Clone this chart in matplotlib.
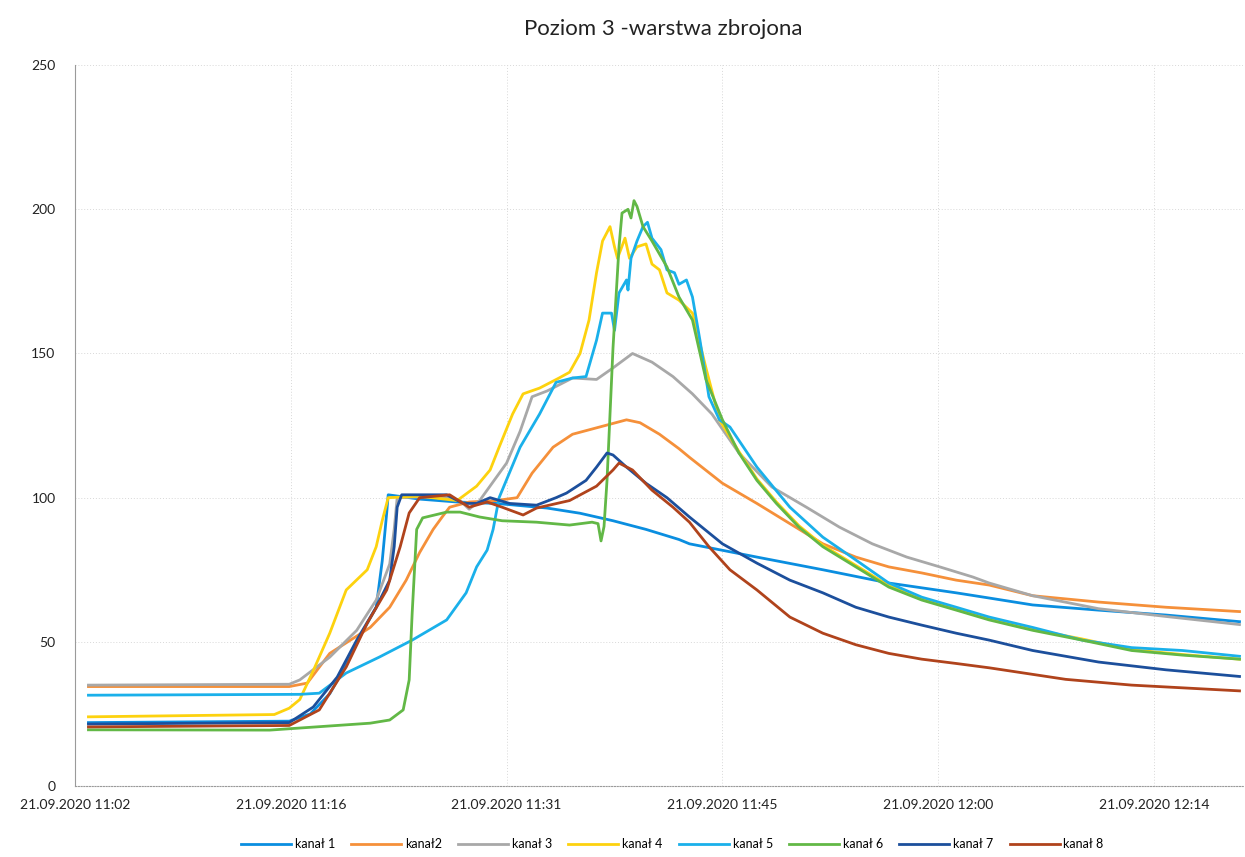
import matplotlib
matplotlib.use("Agg")
import matplotlib.pyplot as plt

# czas w minutach od 21.09.2020 11:02, temperatury
t1 = [0.9, 14.3, 15.7, 17.0, 18.3, 19.0, 20.1, 20.5, 20.8, 20.9, 23.0, 25.5, 28.1, 29.2, 31.5,
      33.7, 35.9, 38.1, 40.3, 41.0, 45.5, 49.9, 54.3, 58.8, 61.0, 63.9, 68.3, 72.8, 77.7]
k1 = [22, 22.5, 25, 32, 44, 51.7, 62, 78, 94.7, 101, 99.5, 98.5, 98, 97.5, 96.4,
      94.6, 92, 89, 85.5, 84, 79.4, 75, 70.4, 67, 65.2, 62.8, 61, 59.3, 57]

t2 = [0.9, 14.3, 15.5, 17.0, 19.7, 21.0, 22.1, 23.0, 23.9, 24.5, 25.0, 26.3, 28.1, 29.5, 30.5,
      31.9, 33.2, 35.0, 36.8, 37.7, 39.0, 40.3, 41.0, 43.2, 45.5, 47.7, 49.9, 52.1, 54.3, 56.5,
      58.8, 61.0, 63.9, 68.3, 72.8, 77.7]
k2 = [34.5, 34.5, 35.7, 46, 55, 62, 71.4, 81, 89, 93.3, 96.7, 98.5, 99, 100, 108.5,
      117.5, 122, 124.5, 127, 126, 122, 117, 114, 105, 98, 91, 84, 79.4, 76, 73.9,
      71.4, 69.7, 66, 63.8, 62, 60.5]

t3 = [0.9, 14.3, 15.0, 17.0, 18.8, 20.1, 21.0, 21.3, 21.5, 24.3, 25.7, 26.3, 27.0, 28.8, 29.7,
      30.5, 31.5, 33.2, 34.8, 35.9, 37.2, 38.5, 39.9, 41.2, 42.5, 44.3, 46.5, 48.8, 51.0, 53.2,
      55.5, 57.7, 59.9, 61.0, 63.9, 68.3, 72.8, 77.7]
k3 = [35, 35.3, 36.8, 44.7, 54, 64.5, 77, 89, 100, 100.5, 99, 96, 99, 112, 123,
      135, 137, 141.5, 141, 145, 150, 147, 142, 136, 129, 115.5, 103.7, 96.7, 89.8, 84,
      79.4, 76, 72.5, 70.4, 66, 61.5, 58.8, 56]

t4 = [0.9, 13.3, 14.3, 15.0, 15.9, 17.0, 18.1, 19.5, 20.1, 20.5, 20.9, 23.0, 25.5, 26.8, 27.7,
      28.3, 29.2, 29.9, 31.0, 32.3, 33.0, 33.7, 34.3, 34.8, 35.2, 35.7, 36.0, 36.2, 36.7, 37.0,
      37.5, 38.1, 38.5, 39.0, 39.5, 40.3, 41.2, 42.1, 43.0, 44.3, 45.5, 46.8, 48.3, 49.9, 52.1,
      54.3, 56.5, 58.8, 61.0, 63.9, 67.2, 70.5, 73.9, 77.7]
k4 = [24, 24.8, 27, 30, 40, 53, 68, 75, 83, 92, 100, 100.5, 99, 104, 109.6,
      117.5, 129, 136, 138, 141.5, 143.5, 150, 161.6, 178, 189, 194, 187, 183, 190, 183,
      187, 188, 181, 179, 171, 168.5, 164, 145, 127, 116, 106.5, 98.5, 90.3, 83.5, 76.5,
      69.5, 65, 61.4, 58, 54.3, 51, 47.3, 45.6, 44]

t5 = [0.9, 15.0, 16.3, 18.1, 20.3, 22.5, 24.8, 26.1, 26.8, 27.5, 27.9, 28.3, 29.7, 31.0, 32.1,
      33.2, 34.1, 34.8, 35.2, 35.8, 36.0, 36.3, 36.8, 36.9, 37.1, 37.5, 37.9, 38.2, 38.5, 39.1,
      39.5, 40.0, 40.3, 40.8, 41.2, 41.7, 42.3, 43.0, 43.7, 45.5, 47.7, 49.9, 52.1, 54.3, 56.5,
      58.8, 61.0, 63.9, 67.2, 70.5, 73.9, 77.7]
k5 = [31.5, 31.8, 32.2, 39.2, 44.7, 50.6, 57.6, 67, 76, 81.8, 89, 100, 117.5, 129, 140,
      141.5, 142, 154.6, 164, 164, 158, 171, 175.5, 172, 183, 189, 194, 195.5, 190, 186,
      179, 178, 174, 175.5, 169.6, 154.6, 135, 127, 124.5, 110.6, 96.7, 86.3, 78.4, 70.4, 65.5,
      62, 58.6, 55, 50.6, 48, 47, 45]

t6 = [0.9, 13.0, 19.7, 21.0, 21.9, 22.3, 22.5, 22.8, 23.2, 24.8, 25.7, 27.0, 28.5, 30.8, 33.0,
      34.5, 34.9, 35.1, 35.3, 35.5, 35.9, 36.3, 36.5, 36.9, 37.1, 37.3, 37.5, 37.9, 38.5, 39.5,
      40.3, 41.2, 42.1, 43.2, 44.3, 45.5, 46.8, 48.3, 49.9, 52.1, 54.3, 56.5, 58.8, 61.0, 63.9,
      67.2, 70.5, 73.9, 77.7]
k6 = [19.5, 19.4, 21.8, 22.9, 26.4, 36.8, 60, 89, 93, 95, 95, 93.3, 92, 91.5, 90.5,
      91.5, 91, 85, 90, 106, 152, 187, 198.7, 200, 197, 203, 201, 194, 189, 180,
      169.6, 161.6, 141, 127, 115.5, 106, 98, 89.8, 83, 76, 69, 64.5, 61, 57.6, 54,
      50.6, 47, 45.4, 44]

t7 = [0.9, 14.3, 15.9, 17.5, 18.8, 20.1, 21.0, 21.3, 21.5, 21.8, 24.8, 25.9, 26.8, 27.7, 29.0,
      30.8, 32.1, 32.8, 34.1, 34.8, 35.5, 35.9, 36.8, 38.1, 39.5, 41.0, 43.2, 45.5, 47.7, 49.9,
      52.1, 54.3, 56.5, 58.8, 61.0, 63.9, 68.3, 72.8, 77.7]
k7 = [21.5, 22, 27.4, 37.8, 50.6, 62, 71.4, 83, 96.7, 101, 101, 98, 98, 100, 98,
      97.4, 100, 101.6, 106, 110.6, 115.5, 114.8, 110.6, 105, 100, 93.3, 84, 77.3, 71.4, 67,
      62, 58.6, 55.8, 53, 50.6, 47, 43, 40.3, 38]

t8 = [0.9, 14.3, 16.3, 18.1, 19.5, 20.8, 21.7, 22.3, 23.0, 25.0, 26.3, 27.5, 28.5, 29.9, 30.8,
      33.0, 34.8, 35.9, 36.3, 37.2, 38.5, 39.9, 41.0, 42.3, 43.7, 45.5, 47.7, 49.9, 52.1, 54.3,
      56.5, 58.8, 61.0, 66.1, 70.5, 77.7]
k8 = [20.5, 21, 26.4, 41.3, 56.5, 68, 83, 94.7, 100, 101, 96.7, 98.5, 96.7, 94, 96.4,
      99, 104, 109.6, 112, 109.6, 102.6, 96.7, 91.5, 83, 75, 68, 58.6, 53, 49, 46,
      44, 42.5, 41, 37, 35, 33]

labels = ["kanał 1", "kanał2", "kanał 3", "kanał 4", "kanał 5", "kanał 6", "kanał 7", "kanał 8"]
colors = ["#0a8ee0", "#f5903a", "#a8a8a8", "#fdd20e", "#1ab0ea", "#62b846", "#1c4f9c", "#b0431c"]

tick_pos = [0, 14.4, 28.8, 43.2, 57.6, 72.0]
tick_lab = ["21.09.2020 11:02", "21.09.2020 11:16", "21.09.2020 11:31",
            "21.09.2020 11:45", "21.09.2020 12:00", "21.09.2020 12:14"]

plt.rcParams["font.family"] = ["Lato", "DejaVu Sans"]

fig = plt.figure(figsize=(12.45, 8.57), dpi=100)
ax = fig.add_axes([0.0602, 0.0828, 0.9378, 0.8412])

series = [(t1, k1), (t2, k2), (t3, k3), (t4, k4), (t5, k5), (t6, k6), (t7, k7), (t8, k8)]
for (t, k), lab, c in zip(series, labels, colors):
    ax.plot(t, k, color=c, lw=2.0, label=lab, solid_joinstyle="round")

ax.set_xlim(0, 77.9)
ax.set_ylim(0, 250)
ax.set_yticks([0, 50, 100, 150, 200, 250])
ax.set_xticks(tick_pos)
ax.set_xticklabels(tick_lab)
ax.tick_params(axis="both", length=0, labelsize=10, colors="#222222")
ax.tick_params(axis="y", pad=14)
ax.tick_params(axis="x", pad=9)
ax.grid(True, color="#d8d8d8", lw=0.7, ls=(0, (1, 2)))
for s in ["top", "right"]:
    ax.spines[s].set_visible(False)
ax.spines["left"].set_color("#9a9a9a")
ax.spines["left"].set_linewidth(0.8)
ax.spines["bottom"].set_color("#9a9a9a")
ax.spines["bottom"].set_linestyle((0, (1, 1.5)))
ax.spines["bottom"].set_linewidth(0.8)

fig.text(0.533, 0.966, "Poziom 3 -warstwa zbrojona", ha="center", va="center", fontsize=16, color="#222222")

fig.legend(loc="lower center", bbox_to_anchor=(0.54, -0.005), ncol=8, frameon=False,
           fontsize=9, handlelength=4, columnspacing=1.3, handletextpad=0.3)

fig.savefig("out.png", dpi=100)
